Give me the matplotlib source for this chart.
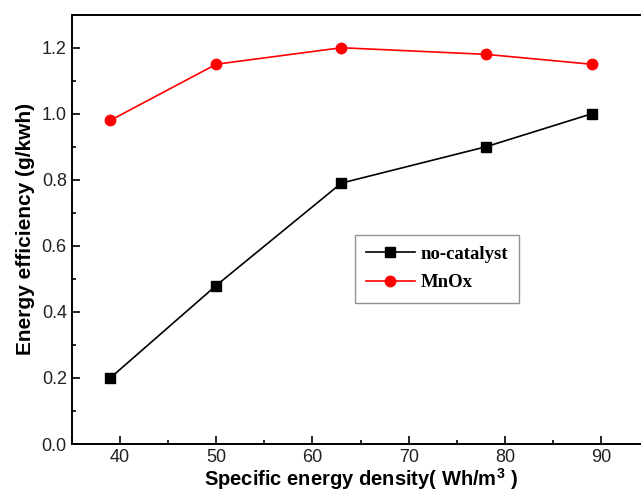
import matplotlib.pyplot as plt
from matplotlib.ticker import MultipleLocator

x = [39, 50, 63, 78, 89]
no_catalyst = [0.20, 0.48, 0.79, 0.90, 1.00]
mnox = [0.98, 1.15, 1.20, 1.18, 1.15]

plt.rcParams['font.family'] = ['Liberation Sans', 'DejaVu Sans']
plt.rcParams['mathtext.fontset'] = 'custom'
plt.rcParams['mathtext.bf'] = 'Liberation Sans:bold'

fig = plt.figure(figsize=(6.41, 4.97), dpi=100)
# right edge of the plot runs past the image, as in the original crop
ax = fig.add_axes([0.1119, 0.1066, 0.9014, 0.8638])

ax.plot(x, no_catalyst, color='black', lw=1.2, marker='s', ms=6.5, label='no-catalyst')
ax.plot(x, mnox, color='red', lw=1.2, marker='o', ms=7.5, label='MnOx')

ax.set_xlim(35, 95)
ax.set_ylim(0, 1.3)
ax.xaxis.set_major_locator(MultipleLocator(10))
ax.xaxis.set_minor_locator(MultipleLocator(5))
ax.yaxis.set_major_locator(MultipleLocator(0.2))
ax.yaxis.set_minor_locator(MultipleLocator(0.1))
ax.yaxis.set_major_formatter(plt.FuncFormatter(lambda v, p: f'{v:.1f}'))
ax.tick_params(which='both', direction='in', labelsize=13, width=1.2, labelcolor='#222222')
ax.tick_params(which='major', length=6)
ax.tick_params(which='minor', length=3)
for s in ax.spines.values():
    s.set_linewidth(1.4)

ax.set_xlabel(r'Specific energy density( Wh/m$^\mathbf{3}$ )', fontsize=14.5, fontweight='bold', labelpad=0)
ax.set_ylabel('Energy efficiency (g/kwh)', fontsize=15, fontweight='bold', labelpad=5)

leg = ax.legend(loc='upper left', bbox_to_anchor=(0.490, 0.488), frameon=True, fancybox=False,
                edgecolor='#777777', handlelength=2.6, handletextpad=0.3, borderpad=0.6,
                labelspacing=0.6, borderaxespad=0,
                prop={'family': 'Liberation Serif', 'weight': 'bold', 'size': 13.5})
leg.get_frame().set_linewidth(1.0)

fig.savefig('out.png', dpi=100)
